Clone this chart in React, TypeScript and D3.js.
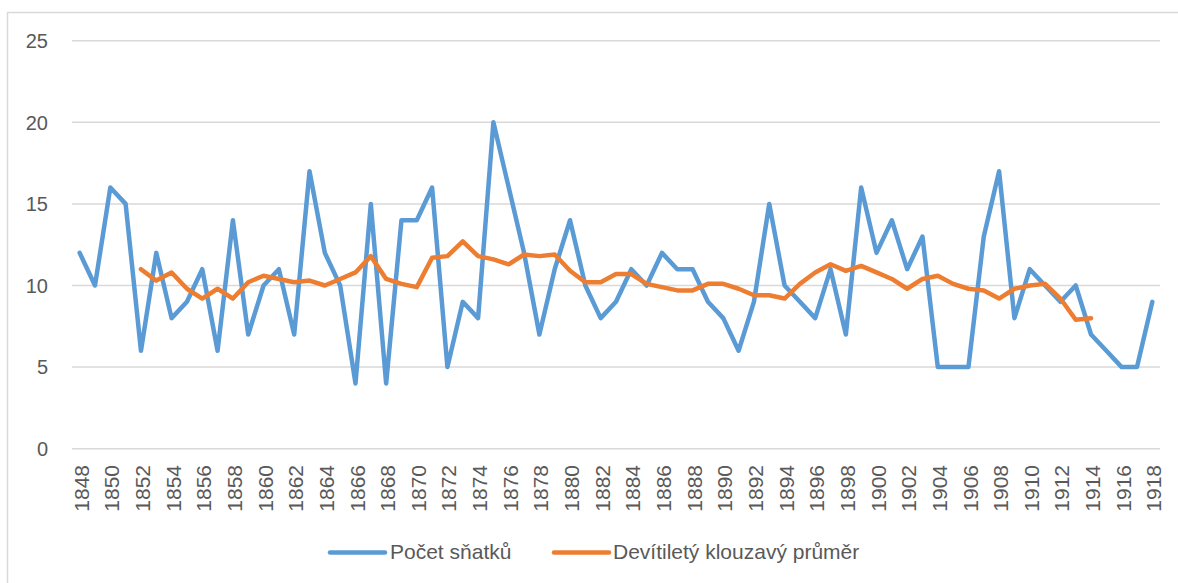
import * as d3 from 'd3';

// years on the category axis
const years: number[] = d3.range(1848, 1919);

// Počet sňatků (number of marriages)
const marriages: number[] = [
  12, 10, 16, 15, 6, 12, 8, 9, 11, 6,
  14, 7, 10, 11, 7, 17, 12, 10, 4, 15,
  4, 14, 14, 16, 5, 9, 8, 20, 16, 12,
  7, 11, 14, 10, 8, 9, 11, 10, 12, 11,
  11, 9, 8, 6, 9, 15, 10, 9, 8, 11,
  7, 16, 12, 14, 11, 13, 5, 5, 5, 13,
  17, 8, 11, 10, 9, 10, 7, 6, 5, 5,
  9,
];

// Devítiletý klouzavý průměr, 1852–1914 (null where there is none)
const movingAvg: (number | null)[] = [
  null, null, null, null,
  11.0, 10.3, 10.8, 9.8, 9.2, 9.8, 9.2, 10.2, 10.6, 10.4,
  10.2, 10.3, 10.0, 10.4, 10.8, 11.8, 10.4, 10.1, 9.9, 11.7,
  11.8, 12.7, 11.8, 11.6, 11.3, 11.9, 11.8, 11.9, 10.9, 10.2,
  10.2, 10.7, 10.7, 10.1, 9.9, 9.7, 9.7, 10.1, 10.1, 9.8,
  9.4, 9.4, 9.2, 10.1, 10.8, 11.3, 10.9, 11.2, 10.8, 10.4,
  9.8, 10.4, 10.6, 10.1, 9.8, 9.7, 9.2, 9.8, 10.0, 10.1,
  9.2, 7.9, 8.0,
  null, null, null, null,
];

const yTicks = [0, 5, 10, 15, 20, 25];
const labelYears = years.filter(y => (y - 1848) % 2 === 0);

const seriesNames = ['Počet sňatků', 'Devítiletý klouzavý průměr'];
const colors = ['#5b9bd5', '#ed7d31'];

function App() {
  const width = 1178;
  const height = 583;
  const font = '"Liberation Sans", Arial, sans-serif';
  const textColor = '#595959';
  const gridColor = '#d9d9d9';

  const xScale = d3.scaleBand<number>()
    .domain(years)
    .range([72, 1160])
    .padding(0);
  const cx = (y: number) => (xScale(y) as number) + xScale.bandwidth() / 2;

  const yScale = d3.scaleLinear()
    .domain([0, 25])
    .range([448.7, 40.7]);

  const line = d3.line<[number, number | null]>()
    .defined(d => d[1] !== null)
    .x(d => cx(d[0]))
    .y(d => yScale(d[1] as number));

  const blueData = years.map((y, i) => [y, marriages[i]] as [number, number | null]);
  const orangeData = years.map((y, i) => [y, movingAvg[i]] as [number, number | null]);

  const legend = [
    { name: seriesNames[0], color: colors[0], x1: 330, x2: 385, tx: 390 },
    { name: seriesNames[1], color: colors[1], x1: 554, x2: 609, tx: 613 },
  ];

  return (
    <svg width={width} height={height}
      style={{ position: 'absolute', left: 0, top: 0, background: '#fff' }}>
      <rect x={7.5} y={12.5} width={1200} height={600} fill="#fff" stroke={gridColor} strokeWidth={1.5} />

      {yTicks.map(t => (
        <g key={t}>
          <line x1={72} x2={1160} y1={yScale(t)} y2={yScale(t)} stroke={gridColor} strokeWidth={1.5} />
          <text x={48} y={yScale(t)} dy="0.36em" textAnchor="end"
            fontFamily={font} fontSize={20} fill={textColor}>{t}</text>
        </g>
      ))}

      {labelYears.map(y => (
        <text key={y} transform={`translate(${cx(y) + 1.5},465) rotate(-90)`}
          dy="0.36em" textAnchor="end" fontFamily={font} fontSize={21} fill={textColor}>{y}</text>
      ))}

      <path d={line(blueData) ?? ''} fill="none" stroke={colors[0]} strokeWidth={4.5}
        strokeLinejoin="round" strokeLinecap="round" />
      <path d={line(orangeData) ?? ''} fill="none" stroke={colors[1]} strokeWidth={4.5}
        strokeLinejoin="round" strokeLinecap="round" />

      {legend.map(l => (
        <g key={l.name}>
          <line x1={l.x1} x2={l.x2} y1={552.5} y2={552.5} stroke={l.color} strokeWidth={4.5} strokeLinecap="round" />
          <text x={l.tx} y={559} fontFamily={font} fontSize={21} fill={textColor}>{l.name}</text>
        </g>
      ))}
    </svg>
  );
}

export default App;
